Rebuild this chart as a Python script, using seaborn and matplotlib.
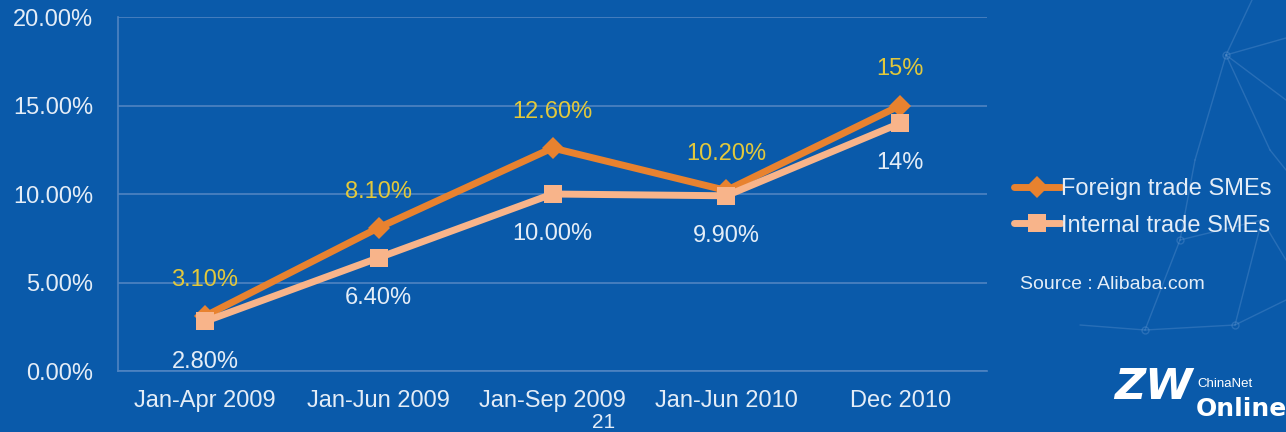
import matplotlib
matplotlib.use("Agg")
import matplotlib.pyplot as plt
from matplotlib.lines import Line2D
from matplotlib.ticker import FuncFormatter
import seaborn as sns
import pandas as pd

# Data
periods = ["Jan-Apr 2009", "Jan-Jun 2009", "Jan-Sep 2009", "Jan-Jun 2010", "Dec 2010"]
foreign = [3.10, 8.10, 12.60, 10.20, 15.0]
internal = [2.80, 6.40, 10.00, 9.90, 14.0]
foreign_labels = ["3.10%", "8.10%", "12.60%", "10.20%", "15%"]
internal_labels = ["2.80%", "6.40%", "10.00%", "9.90%", "14%"]
series_names = ["Foreign trade SMEs", "Internal trade SMEs"]
y_ticks = [0, 5, 10, 15, 20]

BG = "#0A5AAA"
GRID = "#4F84C2"
TXT = "#E4EDF7"
YEL = "#E2C83C"
ORANGE = "#E8822F"
PEACH = "#F8B48A"

df = pd.DataFrame({
    "period": periods * 2,
    "value": foreign + internal,
    "series": [series_names[0]] * len(periods) + [series_names[1]] * len(periods),
})

sns.set_style("white", {"axes.facecolor": BG, "figure.facecolor": BG})
plt.rcParams["font.family"] = ["Liberation Sans", "DejaVu Sans"]

fig = plt.figure(figsize=(12.86, 4.32), dpi=100, facecolor=BG)
ax = fig.add_axes([0.0918, 0.1412, 0.6757, 0.8194])
ax.set_facecolor(BG)

sns.lineplot(
    data=df, x="period", y="value", hue="series", style="series",
    markers={series_names[0]: "D", series_names[1]: "s"}, dashes=False,
    palette={series_names[0]: ORANGE, series_names[1]: PEACH},
    linewidth=5, markersize=13, markeredgewidth=0, sort=False, ax=ax,
)
# diamond marker slightly smaller than the square
for ln in ax.get_lines():
    if ln.get_marker() == "D":
        ln.set_markersize(11)

ax.set_xlim(-0.5, len(periods) - 0.5)
ax.set_ylim(0, 20)
ax.set_yticks(y_ticks)
ax.yaxis.set_major_formatter(FuncFormatter(lambda v, p: f"{v:.2f}%"))
ax.grid(axis="y", color=GRID, linewidth=1.2)
ax.set_axisbelow(True)
for side in ["top", "right"]:
    ax.spines[side].set_visible(False)
for side in ["left", "bottom"]:
    ax.spines[side].set_color(GRID)
    ax.spines[side].set_linewidth(1.2)
ax.tick_params(axis="both", length=0, labelsize=17, colors=TXT)
ax.tick_params(axis="y", pad=18)
ax.tick_params(axis="x", pad=14)
ax.set_xlabel("")
ax.set_ylabel("")

# Value labels
for i, (fv, iv) in enumerate(zip(foreign, internal)):
    ax.annotate(foreign_labels[i], (i, fv), xytext=(0, 26), textcoords="offset points",
                ha="center", va="center", color=YEL, fontsize=17)
    ax.annotate(internal_labels[i], (i, iv), xytext=(0, -29), textcoords="offset points",
                ha="center", va="center", color=TXT, fontsize=17)

# Legend outside the axes
handles, labels = ax.get_legend_handles_labels()
if ax.get_legend() is not None:
    ax.get_legend().remove()
leg = fig.legend(handles, labels, loc="upper left", bbox_to_anchor=(0.781, 0.61),
                 frameon=False, fontsize=17, handlelength=2.0, handletextpad=0.0,
                 labelspacing=0.62, borderaxespad=0)
for t in leg.get_texts():
    t.set_color(TXT)

fig.text(0.793, 0.342, "Source : Alibaba.com", color=TXT, fontsize=14, ha="left", va="center")

# Page number
fig.text(0.4695, 0.022, "21", color=TXT, fontsize=15, ha="center", va="center")

# Logo
fig.text(0.866, 0.055, "ZW", color="white", fontsize=31, fontweight="bold", style="italic",
         ha="left", va="bottom", family="DejaVu Sans")
fig.text(0.931, 0.097, "ChinaNet", color="white", fontsize=9.5, ha="left", va="bottom")
fig.text(0.930, 0.025, "Online", color="white", fontsize=18, fontweight="bold", ha="left", va="bottom",
         family="DejaVu Sans")

# Faint network pattern in the background
W, H = 1286.0, 432.0
segments = [
    ((1226, 55), (1252, 0)), ((1226, 55), (1286, 38)), ((1226, 55), (1286, 100)),
    ((1226, 55), (1195, 160)), ((1226, 55), (1270, 150)), ((1195, 160), (1180, 240)),
    ((1270, 150), (1286, 170)), ((1180, 240), (1262, 220)), ((1180, 240), (1145, 330)),
    ((1262, 220), (1286, 260)), ((1145, 330), (1235, 325)), ((1235, 325), (1286, 300)),
    ((1080, 325), (1145, 330)), ((1235, 325), (1262, 220)),
]
for (x0, y0), (x1, y1) in segments:
    fig.add_artist(Line2D([x0 / W, x1 / W], [1 - y0 / H, 1 - y1 / H],
                          color="#6E9FD6", alpha=0.3, linewidth=1, zorder=0))
for (x, y) in [(1226, 55), (1180, 240), (1235, 325), (1145, 330)]:
    fig.add_artist(Line2D([x / W], [1 - y / H], marker="o", markersize=5, markerfacecolor="none",
                          markeredgecolor="#6E9FD6", alpha=0.3, linestyle="none", zorder=0))

fig.savefig("out.png", dpi=100, facecolor=BG)
